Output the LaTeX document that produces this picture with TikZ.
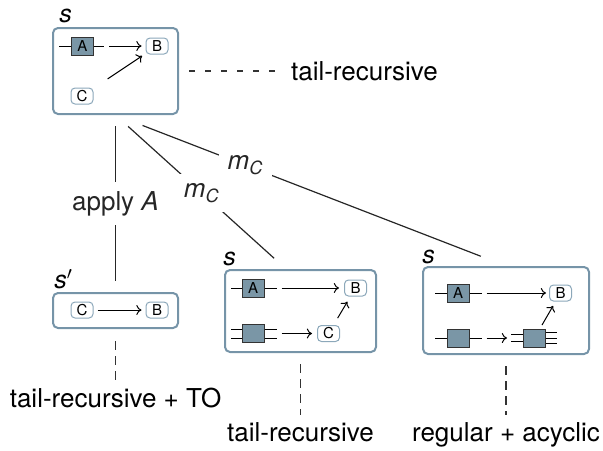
\documentclass[tikz,border=0pt]{standalone}
\usepackage{fontspec}
\setmainfont{TeX Gyre Heros}
\usetikzlibrary{arrows.meta,positioning,calc}
\definecolor{framecol}{RGB}{118,148,168}
\definecolor{gatecol}{RGB}{122,150,166}
\definecolor{stnodecol}{RGB}{140,168,186}
\tikzset{
  statebox/.style={draw=framecol, line width=1pt, rounded corners=2.5pt},
  stnode/.style={draw=stnodecol, line width=0.5pt, rounded corners=2pt, fill=white, minimum width=11pt, minimum height=8pt, inner sep=0pt, font=\fontsize{7.5}{8}\selectfont},
  gate/.style={draw=black!80, fill=gatecol, line width=0.5pt, minimum width=11pt, minimum height=9pt, inner sep=0pt, font=\fontsize{7.5}{8}\selectfont},
  stub/.style={line width=0.5pt},
  trans/.style={-{To[length=2.6pt,width=5pt]}, line width=0.5pt},
  treeedge/.style={line width=0.6pt, black!85},
  elabel/.style={fill=white, inner sep=4.5pt, font=\fontsize{13}{15}\selectfont},
  slabel/.style={inner sep=0pt, font=\fontsize{12.5}{15}\selectfont},
  prop/.style={font=\fontsize{13}{15}\selectfont},
  hdash/.style={line width=0.6pt, black!80, dash pattern=on 3pt off 5pt},
  vdash/.style={line width=0.6pt, black!80, dash pattern=on 4.5pt off 3pt}
}
\newcommand{\mC}{\textit{m}\textsubscript{\textit{C}}}

\begin{document}
\begin{tikzpicture}[x=0.5pt, y=-0.5pt]
\useasboundingbox (0,0) rectangle (603,450);

\node[statebox, minimum width=62.5pt, minimum height=43pt] (top) at (115.5,71) {};
\node[slabel, anchor=base west] (stop) at (59,22) {\textit{s}};
\node[gate] (topA) at (82.5,46) {A};
\node[stnode] (topB) at (157,46) {B};
\node[stnode] (topC) at (82,96) {C};
\draw[stub] (topA.west) -- ++(-12,0) (topA.east) -- ++(10,0);
\draw[trans, shorten <=7.5pt, shorten >=2pt] (topA) -- (topB);
\draw[trans, shorten <=8.5pt, shorten >=2pt] (topC) -- (topB);
\node[prop, anchor=west] (trtop) at (284,71) {tail-recursive};
\draw[hdash, shorten <=5pt] (top.east) -- (trtop.west);

\node[statebox, minimum width=62.5pt, minimum height=17.5pt] (sp) at (115.5,310.5) {};
\node[slabel, anchor=base west] (ssp) at (54,288) {\textit{s}$'$};
\node[stnode] (spC) at (82,310) {C};
\node[stnode] (spB) at (157,310) {B};
\draw[trans, shorten <=2pt, shorten >=2pt] (spC) -- (spB);

\node[statebox, minimum width=75.5pt, minimum height=41pt] (mid) at (300.5,311) {};
\node[slabel, anchor=base west] (smid) at (223,265) {\textit{s}};
\node[gate] (midA) at (253,288) {A};
\node[stnode] (midB) at (355.5,288) {B};
\node[gate] (midD) at (253,333.5) {};
\node[stnode] (midC) at (328.5,333.5) {C};
\draw[stub] (midA.west) -- ++(-11,0) (midA.east) -- ++(12,0);
\foreach \dy in {-2.25pt,2.25pt}
  \draw[stub] ([yshift=\dy]midD.west) -- ++(-11,0) ([yshift=\dy]midD.east) -- ++(12,0);
\draw[trans, shorten <=8.5pt, shorten >=2.5pt] (midA) -- (midB);
\draw[trans, shorten <=8.5pt, shorten >=2.5pt] (midD) -- (midC);
\draw[trans, shorten <=4pt, shorten >=3pt] (midC) -- (midB);

\node[statebox, minimum width=83pt, minimum height=43.5pt] (rgt) at (506,310.5) {};
\node[slabel, anchor=base west] (srgt) at (422,263) {\textit{s}};
\node[gate] (rgtA) at (458,293) {A};
\node[stnode] (rgtB) at (560.5,293) {B};
\node[gate] (rgtD) at (458,338) {};
\node[gate] (rgtE) at (534.5,338) {};
\draw[stub] (rgtA.west) -- ++(-12,0) (rgtA.east) -- ++(12,0);
\draw[stub] (rgtD.west) -- ++(-12,0) (rgtD.east) -- ++(12,0);
\foreach \dy in {-1.75pt,1.75pt}
  \draw[stub] ([yshift=\dy]rgtE.west) -- ++(-12,0);
\foreach \dy in {-2.75pt,0pt,2.75pt}
  \draw[stub] ([yshift=\dy]rgtE.east) -- ++(11,0);
\draw[trans, shorten <=8.5pt, shorten >=1.5pt] (rgtA) -- (rgtB);
\draw[trans, shorten <=8.5pt, shorten >=8pt] (rgtD) -- (rgtE);
\draw[trans, shorten <=2pt, shorten >=2.5pt] (rgtE) -- (rgtB);

\draw[treeedge, shorten <=5.5pt, shorten >=5.5pt] (top.south) -- node[elabel] (apA) {apply \textit{A}} (sp.north);
\draw[treeedge, shorten <=8.5pt, shorten >=8pt] (top.south) -- node[elabel, pos=0.506] (mcmid) {\mC} ([xshift=-7.25pt]mid.north);
\draw[treeedge, shorten <=14.5pt, shorten >=13.5pt] (top.south) -- node[elabel, pos=0.333] (mcrgt) {\mC} (rgt.north);

\node[prop, anchor=base] (lTO) at (115.5,407) {tail-recursive + TO};
\node[prop, anchor=base] (lmid) at (300.5,441) {tail-recursive};
\node[prop, anchor=base] (lrgt) at (506,441) {regular + acyclic};
\draw[vdash, shorten <=6pt] (sp.south) -- (lTO.north);
\draw[vdash, shorten <=5.5pt] (mid.south) -- (lmid.north);
\draw[vdash, shorten <=5.5pt] (rgt.south) -- (lrgt.north);
\end{tikzpicture}
\end{document}
